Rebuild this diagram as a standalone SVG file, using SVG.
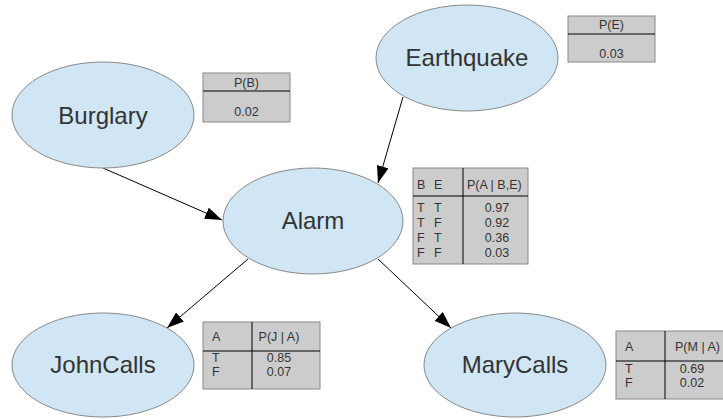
<svg xmlns="http://www.w3.org/2000/svg" width="723" height="419" viewBox="0 0 723 419">
<style>
.node ellipse{fill:#d0e6f4;stroke:#888;stroke-width:1}
.node text{font-family:"Liberation Sans",Arial,sans-serif;font-size:24px;fill:#333;text-anchor:middle}
.cpt rect{fill:#cccccc;stroke:#888;stroke-width:1}
.cpt line{stroke:#000;stroke-width:1}
.cpt text{font-family:"Liberation Sans",Arial,sans-serif;font-size:12.5px;fill:#333}
.c{text-anchor:middle}
.edges line{stroke:#000;stroke-width:1;marker-end:url(#arr)}
</style>
<defs>
<marker id="arr" markerUnits="userSpaceOnUse" markerWidth="17" markerHeight="12" refX="17" refY="6" orient="auto">
<path d="M0,0 L17,6 L0,12 z" fill="#000"/>
</marker>
</defs>
<rect width="723" height="419" fill="#fff"/>
<g id="edges" class="edges">
<line x1="103" y1="168" x2="222" y2="220"/>
<line x1="403" y1="97" x2="378" y2="183"/>
<line x1="248" y1="259" x2="167" y2="328"/>
<line x1="378" y1="259" x2="451" y2="328"/>
</g>
<g id="burglary" class="node"><ellipse cx="103" cy="115" rx="91" ry="53"/><text x="103" y="124">Burglary</text></g>
<g id="earthquake" class="node"><ellipse cx="467" cy="58" rx="91" ry="53"/><text x="467" y="66">Earthquake</text></g>
<g id="alarm" class="node"><ellipse cx="313" cy="221" rx="90" ry="53"/><text x="313" y="229">Alarm</text></g>
<g id="johncalls" class="node"><ellipse cx="103" cy="365" rx="91" ry="52"/><text x="103" y="373">JohnCalls</text></g>
<g id="marycalls" class="node"><ellipse cx="515" cy="365" rx="91" ry="52"/><text x="515" y="373">MaryCalls</text></g>
<g id="cpt-b" class="cpt">
<rect x="203" y="73" width="87" height="49"/><line x1="203" y1="91" x2="290" y2="91"/>
<text class="c" x="246.5" y="87">P(B)</text><text class="c" x="246.5" y="116">0.02</text>
</g>
<g id="cpt-e" class="cpt">
<rect x="568" y="16" width="87" height="46"/><line x1="568" y1="34" x2="655" y2="34"/>
<text class="c" x="611.5" y="29">P(E)</text><text class="c" x="611.5" y="58">0.03</text>
</g>
<g id="cpt-a" class="cpt">
<rect x="413" y="168" width="115" height="96"/><line x1="463" y1="168" x2="463" y2="264"/><line x1="413" y1="196" x2="528" y2="196"/>
<text x="417" y="189">B</text><text x="434" y="189">E</text><text x="467" y="189">P(A | B,E)</text>
<text x="417" y="212">T</text><text x="434" y="212">T</text><text class="c" x="497" y="212">0.97</text>
<text x="417" y="227">T</text><text x="434" y="227">F</text><text class="c" x="497" y="227">0.92</text>
<text x="417" y="242">F</text><text x="434" y="242">T</text><text class="c" x="497" y="242">0.36</text>
<text x="417" y="257">F</text><text x="434" y="257">F</text><text class="c" x="497" y="257">0.03</text>
</g>
<g id="cpt-j" class="cpt">
<rect x="203" y="322" width="117" height="67"/><line x1="252" y1="322" x2="252" y2="389"/><line x1="203" y1="351" x2="320" y2="351"/>
<text x="212" y="341">A</text><text class="c" x="279" y="341">P(J | A)</text>
<text x="212" y="362">T</text><text class="c" x="279" y="362">0.85</text>
<text x="212" y="376">F</text><text class="c" x="279" y="376">0.07</text>
</g>
<g id="cpt-m" class="cpt">
<rect x="616" y="331" width="120" height="68"/><line x1="665" y1="331" x2="665" y2="399"/><line x1="616" y1="361" x2="736" y2="361"/>
<text x="625" y="351">A</text><text x="675" y="351">P(M | A)</text>
<text x="625" y="373">T</text><text class="c" x="692" y="373">0.69</text>
<text x="625" y="387">F</text><text class="c" x="692" y="387">0.02</text>
</g>
</svg>
